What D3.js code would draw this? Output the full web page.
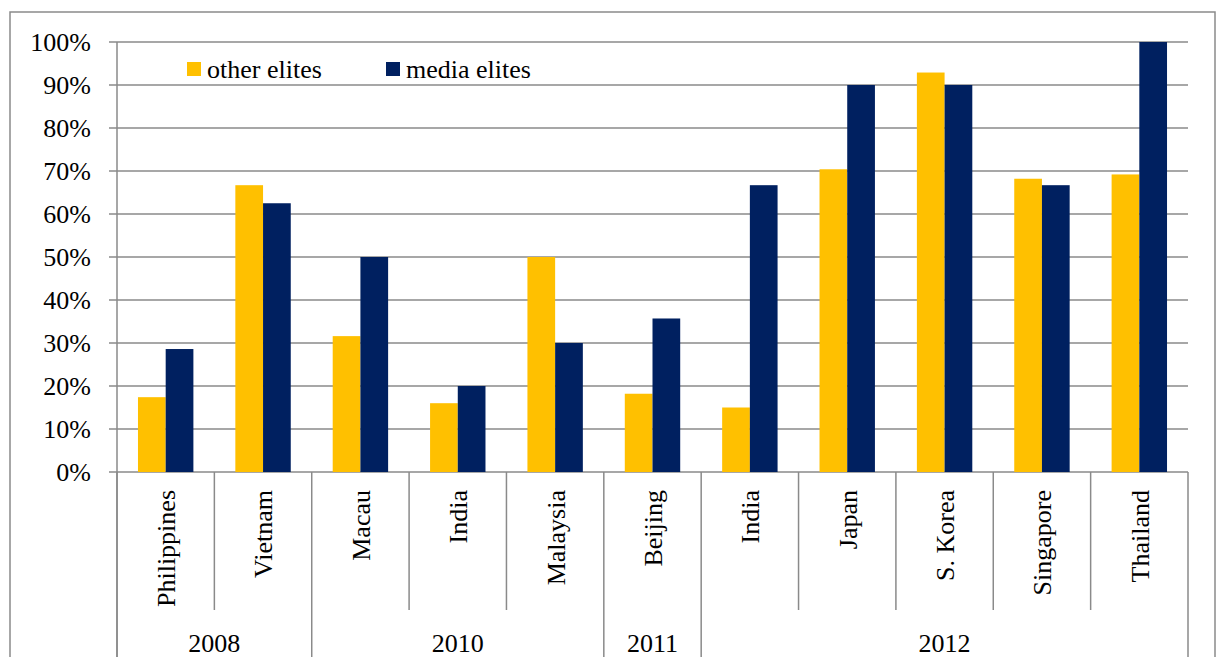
<!DOCTYPE html>
<html>
<head>
<meta charset="utf-8">
<script src="https://cdn.jsdelivr.net/npm/d3@7"></script>
<style>
  html, body { margin: 0; padding: 0; background: #fff; }
  svg { display: block; }
  svg text { font-family: "Liberation Serif", "Times New Roman", Times, serif; }
</style>
</head>
<body>
<svg id="chart" width="1216" height="657"></svg>
<script>
// Share of respondents by survey site, grouped by survey year
const categories = ["Philippines", "Vietnam", "Macau", "India", "Malaysia", "Beijing", "India", "Japan", "S. Korea", "Singapore", "Thailand"];
const years = ["2008", "2008", "2010", "2010", "2010", "2011", "2012", "2012", "2012", "2012", "2012"];
const seriesNames = ["other elites", "media elites"];
const otherElites = [17.4, 66.7, 31.6, 16.0, 50.0, 18.2, 15.0, 70.4, 92.9, 68.2, 69.2];
const mediaElites = [28.6, 62.5, 50.0, 20.0, 30.0, 35.7, 66.7, 90.0, 90.0, 66.7, 100.0];
const yTicks = [0, 10, 20, 30, 40, 50, 60, 70, 80, 90, 100];
const colors = ["#FFC000", "#002060"];

const svg = d3.select("#chart");
const serif = "Liberation Serif, Times New Roman, serif";
const gridColor = "#8a8a8a";
const fontSize = 26;

const plot = { left: 117, right: 1188, top: 42, bottom: 472 };

// Outer chart frame
svg.append("rect")
  .attr("x", 10).attr("y", 12)
  .attr("width", 1205).attr("height", 700)
  .attr("fill", "none")
  .attr("stroke", gridColor)
  .attr("stroke-width", 1.5);

const keys = categories.map((c, i) => i);
const x0 = d3.scaleBand().domain(keys).range([plot.left, plot.right]).padding(0);
const x1 = d3.scaleBand().domain(seriesNames).range([0, x0.bandwidth()])
  .paddingInner(0).paddingOuter(0.757);
const y = d3.scaleLinear().domain([0, 100]).range([plot.bottom, plot.top]);

// Horizontal gridlines with their tick marks
svg.append("g")
  .selectAll("line")
  .data(yTicks)
  .join("line")
  .attr("x1", plot.left - 8)
  .attr("x2", plot.right)
  .attr("y1", d => y(d))
  .attr("y2", d => y(d))
  .attr("stroke", gridColor)
  .attr("stroke-width", 1.5);

// Y axis labels
svg.append("g")
  .selectAll("text")
  .data(yTicks)
  .join("text")
  .attr("x", 91)
  .attr("y", d => y(d))
  .attr("dy", "0.35em")
  .attr("text-anchor", "end")
  .attr("font-family", serif)
  .attr("font-size", fontSize)
  .attr("fill", "#000")
  .text(d => d3.format(".0%")(d / 100));

// Bars
const rows = keys.map(i => ({ i, values: [otherElites[i], mediaElites[i]] }));
const groups = svg.append("g")
  .selectAll("g")
  .data(rows)
  .join("g")
  .attr("transform", d => `translate(${x0(d.i)},0)`);

groups.selectAll("rect")
  .data(d => d.values.map((v, s) => ({ v, s })))
  .join("rect")
  .attr("x", d => x1(seriesNames[d.s]))
  .attr("width", x1.bandwidth())
  .attr("y", d => y(d.v))
  .attr("height", d => y(0) - y(d.v))
  .attr("fill", d => colors[d.s]);

// Y axis line (runs down through the category area)
svg.append("line")
  .attr("x1", plot.left).attr("x2", plot.left)
  .attr("y1", plot.top).attr("y2", 660)
  .attr("stroke", gridColor).attr("stroke-width", 1.5);

// Category separators and year-group separators
const boundaries = d3.range(categories.length + 1);
svg.append("g")
  .selectAll("line")
  .data(boundaries)
  .join("line")
  .attr("x1", b => b < categories.length ? x0(b) : plot.right)
  .attr("x2", b => b < categories.length ? x0(b) : plot.right)
  .attr("y1", plot.bottom)
  .attr("y2", b => {
    const isGroupEdge = b === 0 || b === categories.length || years[b] !== years[b - 1];
    return isGroupEdge ? 660 : 610;
  })
  .attr("stroke", gridColor)
  .attr("stroke-width", 1.5);

// Rotated category labels
svg.append("g")
  .selectAll("text")
  .data(keys)
  .join("text")
  .attr("transform", i => `translate(${x0(i) + x0.bandwidth() / 2},490) rotate(-90)`)
  .attr("dy", "0.36em")
  .attr("text-anchor", "end")
  .attr("font-family", serif)
  .attr("font-size", fontSize)
  .attr("fill", "#000")
  .text(i => categories[i]);

// Year group labels
const yearGroups = [];
years.forEach((yr, i) => {
  const last = yearGroups[yearGroups.length - 1];
  if (last && last.year === yr) last.end = i;
  else yearGroups.push({ year: yr, start: i, end: i });
});
svg.append("g")
  .selectAll("text")
  .data(yearGroups)
  .join("text")
  .attr("x", g => (x0(g.start) + x0(g.end) + x0.bandwidth()) / 2)
  .attr("y", 643)
  .attr("dy", "0.35em")
  .attr("text-anchor", "middle")
  .attr("font-family", serif)
  .attr("font-size", fontSize)
  .attr("fill", "#000")
  .text(g => g.year);

// Legend
const legendPos = [187, 386];
const legend = svg.append("g")
  .selectAll("g")
  .data(seriesNames)
  .join("g")
  .attr("transform", (d, i) => `translate(${legendPos[i]},62)`);
legend.append("rect")
  .attr("width", 14).attr("height", 14)
  .attr("fill", (d, i) => colors[i]);
legend.append("text")
  .attr("x", 20).attr("y", 16)
  .attr("font-family", serif)
  .attr("font-size", fontSize)
  .attr("fill", "#000")
  .text(d => d);
</script>
</body>
</html>
